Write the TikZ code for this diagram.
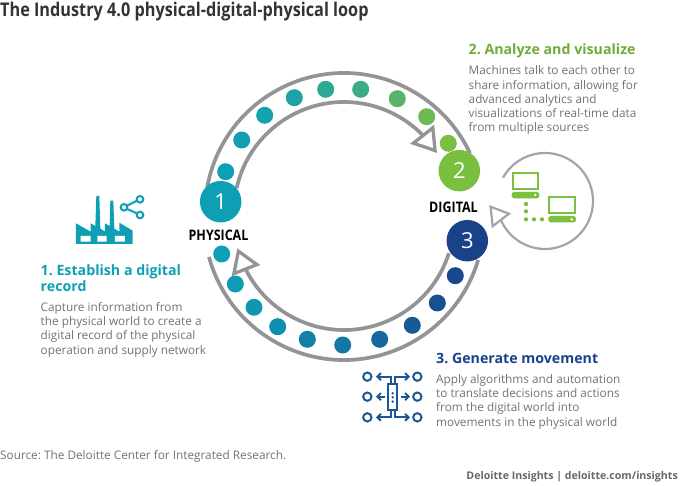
\documentclass[tikz,border=0pt]{standalone}
\usepackage{fontspec}
\setmainfont{Open Sans}
\newfontfamily\narrowfont[FakeStretch=0.86]{Open Sans}
\usetikzlibrary{arrows.meta}
\definecolor{physteal}{HTML}{0E9FB5}
\definecolor{diggreen}{HTML}{7BBF41}
\definecolor{movblue}{HTML}{1A4289}
\definecolor{iconblue}{HTML}{1B5796}
\definecolor{loopgray}{HTML}{929496}
\definecolor{bodygray}{HTML}{707274}
\frenchspacing

\begin{document}
\begin{tikzpicture}[
    x=1pt, y=1pt,
    stage/.style={circle, minimum size=41.5pt, inner sep=0pt, text=white, font=\fontsize{22}{22}\selectfont},
    dot/.style={circle, minimum size=17pt, inner sep=0pt},
    place/.style={font=\narrowfont\fontsize{14.5}{16}\selectfont\bfseries, text=black},
    heading/.style={anchor=base west, align=left, inner sep=0pt, font=\frenchspacing\fontsize{14.2}{17}\selectfont\bfseries},
    body/.style={anchor=base west, align=left, inner sep=0pt, text=bodygray, font=\frenchspacing\fontsize{11.8}{14.3}\selectfont},
    band/.style={draw=loopgray, line width=3.7pt},
    tip/.style={-{Triangle[open, fill=white, length=24pt, width=30pt, line width=3.3pt]}},
]
\useasboundingbox (0,0) rectangle (680,-486);

% Title
\node[anchor=base west, inner sep=0pt, text=black!80, font=\narrowfont\fontsize{18.9}{20}\selectfont\bfseries] (title) at (0,-17) {The Industry 4.0 physical-digital-physical loop};

% Loop centres and arrow ends
\coordinate (upper) at (344,-212);
\coordinate (lower) at (344,-220);
\coordinate (side) at (545,-201);
\coordinate (uppertip) at (437,-153);
\coordinate (lowertip) at (237.3,-248.3);
\coordinate (sidetip) at (489.3,-205);

% Bands
\draw[band] ([shift=(169.7:139pt)]upper) arc (169.7:25:139pt);
\draw[band, tip] ([shift=(167.4:110pt)]upper) arc (167.4:43.7:110pt) -- (uppertip);
\draw[band] ([shift=(195.3:140pt)]lower) arc (195.3:343.4:140pt);
\draw[band, tip] ([shift=(342.4:110pt)]lower) arc (342.4:205.6:110pt) -- (lowertip);
\draw[band, line width=2.2pt, draw=loopgray!85, -{Triangle[open, fill=white, length=20pt, width=24pt]}] ([shift=(151:48pt)]side) arc (151:-156.4:48pt) -- (sidetip);

% Dots on the upper band
\foreach \px/\py/\m [count=\i] in {225.7/171.7/0, 241.7/140/3, 264.7/115.3/6, 294.3/97.7/14, 325.7/89.3/28, 360.7/89.3/42, 397.3/98.7/65, 426.7/116.7/85, 448.3/143.3/100}
    \node[dot, fill=diggreen!\m!physteal] (updot\i) at (\px,-\py) {};

% Dots on the lower band
\foreach \px/\py/\m [count=\i] in {221.7/254/0, 235.3/284/4, 254/307.3/10, 277.7/326.7/18, 307.3/339.3/32, 342.7/345/42, 379.7/339.3/58, 412.3/325.3/74, 437.3/303/84, 455.3/275.7/92}
    \node[dot, fill=movblue!\m!physteal] (lowdot\i) at (\px,-\py) {};

% Stages
\node[stage, fill=physteal] (one) at (220.7,-201.7) {1};
\node[stage, fill=diggreen] (two) at (459.3,-170.7) {2};
\node[stage, fill=movblue] (three) at (467.3,-240.7) {3};
\node[place] (physical) at (218.5,-235) {PHYSICAL};
\node[place] (digital) at (453.5,-207) {DIGITAL};

% Factory icon
\begin{scope}[shift={(60,-180)}, x=0.3333pt, y=-0.3333pt]
\fill[physteal] (48,130) -- (92,155) -- (92,130) -- (106,138) -- (109,48) -- (118,48) -- (121,146) -- (135,155) -- (135,130) -- (149,138) -- (151,62) -- (160,62) -- (163,146) -- (178,155) -- (178,128) -- (218,152) -- (218,192) -- (48,192) -- cycle;
\fill[white] (62,168) rectangle (92,185) (112,168) rectangle (140,185) (165,168) rectangle (195,185);
\draw[physteal, line width=2pt] (192,82) circle (10) (240,58) circle (10) (240,105) circle (10);
\draw[physteal, line width=2pt] (201,77) -- (231,62) (201,87) -- (231,100);
\end{scope}

% Movement icon
\begin{scope}[shift={(350,-360)}, x=0.3333pt, y=-0.3333pt, iconblue, line width=2pt, >={Straight Barb[length=3.5pt, width=7pt]}]
\draw (115,73) rectangle (142,150);
\fill (128,100) circle (4) (128,112) circle (4) (128,125) circle (4);
\draw (52,50) circle (12.5) (52,110) circle (12.5) (52,172) circle (12.5);
\draw (202,50) circle (12.5) (202,110) circle (12.5) (202,172) circle (12.5);
\draw[->] (122,73) -- (122,50) -- (78,50);
\draw[->] (135,73) -- (135,50) -- (180,50);
\draw[->] (105,110) -- (78,110);
\draw[->] (152,110) -- (180,110);
\draw[->] (122,150) -- (122,172) -- (78,172);
\draw[->] (135,150) -- (135,172) -- (180,172);
\end{scope}

% Computer icon
\begin{scope}[shift={(430,-140)}, x=0.3333pt, y=-0.3333pt, diggreen]
\draw[line width=2.2pt] (248,100) rectangle (325,148);
\fill[rounded corners=2.5pt] (245,156) rectangle (328,175);
\fill[white] (316,165) circle (4);
\draw[line width=2.2pt] (358,172) rectangle (436,220);
\fill[rounded corners=2.5pt] (355,228) rectangle (438,247);
\fill[white] (425,238) circle (4);
\fill (288,192) circle (6.5) (288,214) circle (6.5) (288,238) circle (6.5) (312,238) circle (6.5) (336,238) circle (6.5);
\end{scope}

% Texts
\node[heading, text=physteal] (estab) at (40.5,-292) {1. Establish a digital\\record};
\node[body] (estabtxt) at (40.5,-354) {Capture information from\\the physical world to create a\\digital record of the physical\\operation and supply network};
\node[heading, text=diggreen!90!black] (analyze) at (468.5,-55) {2. Analyze and visualize};
\node[body] (analyzetxt) at (468.5,-132) {Machines talk to each other to\\share information, allowing for\\advanced analytics and\\visualizations of real-time data\\from multiple sources};
\node[heading, text=movblue] (generate) at (436,-363) {3. Generate movement};
\node[body] (generatetxt) at (436,-426) {Apply algorithms and automation\\to translate decisions and actions\\from the digital world into\\movements in the physical world};
\node[body] (source) at (0,-459) {Source: The Deloitte Center for Integrated Research.};
\node[anchor=base east, inner sep=0pt, text=bodygray!90!black, font=\frenchspacing\fontsize{10.6}{13}\selectfont\bfseries] (credit) at (678,-479) {Deloitte Insights | deloitte.com/insights};
\end{tikzpicture}
\end{document}
